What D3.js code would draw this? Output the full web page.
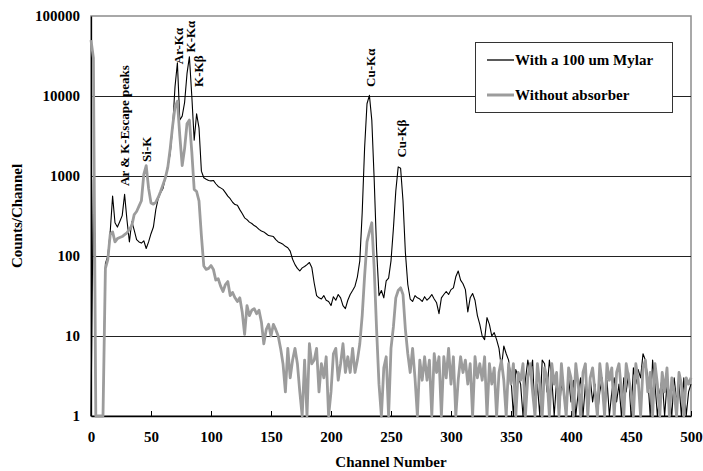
<!DOCTYPE html>
<html>
<head>
<meta charset="utf-8">
<script src="https://cdn.jsdelivr.net/npm/d3@7"></script>
<style>
  body { margin: 0; background: #fff; }
  svg text { font-family: "Times New Roman", "Liberation Serif", "DejaVu Serif", serif; font-weight: bold; }
</style>
</head>
<body>
<div id="chart"></div>
<script>
var width = 703, height = 471;
var margin = {top: 16, right: 12, bottom: 55, left: 91};
var serif = "'Times New Roman', 'Liberation Serif', 'DejaVu Serif', serif";

// channel numbers (every 2nd channel)
var channels = d3.range(0, 501, 2);

// With a 100 um Mylar
var mylar = [
  1, 900, 1, 1, 1, 1, 80, 100, 200, 560,
  260, 230, 270, 320, 590, 280, 150, 270, 210, 160,
  150, 145, 155, 124, 150, 190, 230, 380, 520, 620,
  700, 950, 1300, 1900, 4000, 13000, 26000, 5000, 5600, 8300,
  19000, 31000, 10000, 2800, 6000, 4000, 1150, 950, 910, 880,
  870, 880, 800, 740, 710, 680, 620, 560, 520, 470,
  440, 430, 380, 340, 300, 285, 265, 255, 240, 230,
  215, 205, 200, 190, 180, 178, 175, 160, 150, 145,
  140, 132, 127, 115, 91, 78, 70, 65, 71, 74,
  78, 83, 72, 46, 32, 30, 29, 32, 28, 27,
  24, 31, 28, 33, 30, 24, 22, 28, 33, 37,
  42, 55, 87, 350, 2240, 8000, 10200, 5000, 900, 120,
  32, 37, 30, 49, 53, 87, 220, 650, 1300, 1250,
  490, 110, 44, 29, 27, 32, 30, 29, 27, 31,
  28, 30, 33, 29, 26, 19, 30, 33, 36, 33,
  38, 40, 55, 65, 50, 45, 38, 20, 30, 34,
  28, 18, 14, 10, 9, 17, 14, 10, 11, 9,
  7, 4, 7.5, 6, 5, 3, 1, 3.8, 3.1, 2.5,
  1, 2.8, 5, 3.4, 5, 1, 2.5, 1, 5, 4.5,
  2, 5, 3, 1, 2.8, 1, 2.5, 2, 1, 3,
  1.5, 2.8, 1, 2, 3, 1, 2.5, 1, 3, 1.5,
  2.5, 1, 2, 3, 1, 2.8, 1, 2, 3, 1.5,
  2.5, 1, 3, 2, 3.5, 1, 4, 2.5, 3.8, 3,
  6, 5, 3, 1, 5, 2.5, 1, 2, 3, 1,
  2.5, 2, 1, 3, 1.5, 2.5, 1, 3, 1, 2,
  2.5
];

// Without absorber
var bare = [
  50000, 30000, 1, 1, 1, 1, 70, 90, 185, 200,
  150, 165, 170, 175, 185, 195, 215, 240, 330, 360,
  420, 490, 1050, 1350, 700, 460, 445, 470, 540, 640,
  780, 950, 1280, 2200, 4200, 7200, 8600, 3200, 1350, 2200,
  4500, 5000, 2000, 680, 640, 490, 180, 75, 68, 70,
  76, 68, 50, 52, 42, 36, 44, 48, 32, 35,
  30, 27, 30, 20, 10.5, 24, 18, 21, 22, 19,
  21, 15, 8, 12, 14, 10, 14, 12, 10, 7,
  4.5, 2, 7, 3, 5, 7, 4.5, 2, 1, 5,
  1, 8, 4.5, 5, 7, 2, 4.5, 3, 5.5, 1,
  2, 6, 7, 2.8, 4.5, 8, 3.5, 5.5, 3.5, 7,
  3.5, 5, 8, 18, 56, 150, 200, 260, 70, 12,
  2.5, 1, 4, 5.5, 1, 7, 13, 30, 37, 40,
  33, 12, 6, 3.5, 7, 3, 1, 5, 2.8, 5.5,
  2.8, 5, 1, 6, 3.5, 5.5, 1, 5.5, 3, 7,
  2.5, 5.5, 1, 2.8, 5.5, 3.5, 5, 2.5, 4.5, 1,
  5.5, 3, 4.5, 2.8, 5.5, 1, 4.5, 2.5, 4, 1,
  3.5, 5, 2.8, 1, 4.5, 2.5, 4.5, 1, 3.5, 2.8,
  4.5, 1, 3, 4.5, 2, 1, 4.5, 2.5, 1, 4,
  3, 1, 4.5, 2.5, 3.5, 1, 4.5, 2, 1, 4,
  3, 1, 4.5, 2.5, 1, 3.5, 4.5, 1, 3, 4,
  2, 1, 4.5, 2.5, 1, 4.5, 2.8, 4, 1, 3.5,
  4.5, 2, 1, 4.5, 3, 2, 1, 4.5, 2.8, 1,
  4, 5, 2, 3.5, 1, 4.5, 2.5, 1, 3.5, 2,
  4, 1, 3, 2, 1, 3.5, 2.5, 1, 3, 2.5,
  3
];

var xTicks = [0, 50, 100, 150, 200, 250, 300, 350, 400, 450, 500];
var yTicks = [1, 10, 100, 1000, 10000, 100000];
var seriesNames = ["With a 100 um Mylar", "Without absorber"];
var seriesColors = ["#000000", "#9c9c9c"];

// peak labels: [text, channel, value at bottom of label]
var peakLabels = [
  ["Ar & K-Escape peaks", 28.3, 750],
  ["Si-K", 46.7, 1500],
  ["Ar-K\u03b1", 73, 25000],
  ["K-K\u03b1", 83, 35000],
  ["K-K\u03b2", 90, 13000],
  ["Cu-K\u03b1", 233, 13000],
  ["Cu-K\u03b2", 259, 1700]
];

var svg = d3.select("#chart").append("svg")
    .attr("width", width)
    .attr("height", height);

var x = d3.scaleLinear()
    .domain([0, 500])
    .range([margin.left, width - margin.right]);

var y = d3.scaleLog()
    .domain([1, 100000])
    .range([height - margin.bottom, margin.top]);

// plot frame (grey) and gridlines
svg.append("rect")
    .attr("x", x(0))
    .attr("y", y(100000))
    .attr("width", x(500) - x(0))
    .attr("height", y(1) - y(100000))
    .attr("fill", "none")
    .attr("stroke", "#8c8c8c")
    .attr("stroke-width", 1.5);

svg.selectAll(".grid")
    .data(yTicks.slice(1, 5))
    .enter().append("line")
    .attr("class", "grid")
    .attr("x1", x(0))
    .attr("x2", x(500))
    .attr("y1", d => y(d))
    .attr("y2", d => y(d))
    .attr("stroke", "#222")
    .attr("stroke-width", 1)
    .attr("shape-rendering", "crispEdges");

// axes
var yAxis = d3.axisLeft(y).tickValues(yTicks).tickSize(0).tickPadding(11)
    .tickFormat(d3.format("d"));
var xAxis = d3.axisBottom(x).tickValues(xTicks).tickSizeInner(-5).tickSizeOuter(0).tickPadding(15);

var gx = svg.append("g")
    .attr("transform", "translate(0," + y(1) + ")")
    .call(xAxis);
var gy = svg.append("g")
    .attr("transform", "translate(" + x(0) + ",0)")
    .call(yAxis);

[gx, gy].forEach(function(g) {
  g.attr("font-family", serif);
  g.select(".domain").attr("stroke", "#000").attr("stroke-width", 1.3);
  g.selectAll(".tick line").attr("stroke", "#000");
  g.selectAll(".tick text")
      .attr("fill", "#000")
      .style("font-size", "15px")
      .style("font-family", serif)
      .style("font-weight", "bold");
});

// lines
var line = d3.line()
    .x((d, i) => x(channels[i]))
    .y(d => y(d));

svg.append("path")
    .datum(mylar)
    .attr("fill", "none")
    .attr("stroke", seriesColors[0])
    .attr("stroke-width", 1.1)
    .attr("stroke-linejoin", "round")
    .attr("d", line);

svg.append("path")
    .datum(bare)
    .attr("fill", "none")
    .attr("stroke", seriesColors[1])
    .attr("stroke-width", 2.8)
    .attr("stroke-linejoin", "round")
    .attr("d", line);

// peak labels, vertical
svg.selectAll(".peak")
    .data(peakLabels)
    .enter().append("text")
    .attr("class", "peak")
    .attr("transform", d => "translate(" + (x(d[1]) + 4) + "," + y(d[2]) + ") rotate(-90)")
    .style("font-family", serif)
    .style("font-size", "13px")
    .text(d => d[0]);

// axis titles
svg.append("text")
    .attr("x", (x(0) + x(500)) / 2)
    .attr("y", 467)
    .attr("text-anchor", "middle")
    .style("font-family", serif)
    .style("font-size", "15px")
    .text("Channel Number");

svg.append("text")
    .attr("transform", "translate(22," + ((y(1) + y(100000)) / 2) + ") rotate(-90)")
    .attr("text-anchor", "middle")
    .style("font-family", serif)
    .style("font-size", "15px")
    .text("Counts/Channel");

// legend
var legend = svg.append("g");
legend.append("rect")
    .attr("x", 475.5)
    .attr("y", 42.5)
    .attr("width", 197)
    .attr("height", 70)
    .attr("fill", "#fff")
    .attr("stroke", "#333")
    .attr("stroke-width", 1);

var rows = legend.selectAll(".row")
    .data(seriesNames)
    .enter().append("g")
    .attr("transform", (d, i) => "translate(0," + (60 + i * 35) + ")");

rows.append("line")
    .attr("x1", 487)
    .attr("x2", 514)
    .attr("stroke", (d, i) => seriesColors[i])
    .attr("stroke-width", (d, i) => i === 0 ? 1.3 : 3);

rows.append("text")
    .attr("x", 515)
    .attr("dy", "0.35em")
    .style("font-family", serif)
    .style("font-size", "15px")
    .text(d => d);
</script>
</body>
</html>
